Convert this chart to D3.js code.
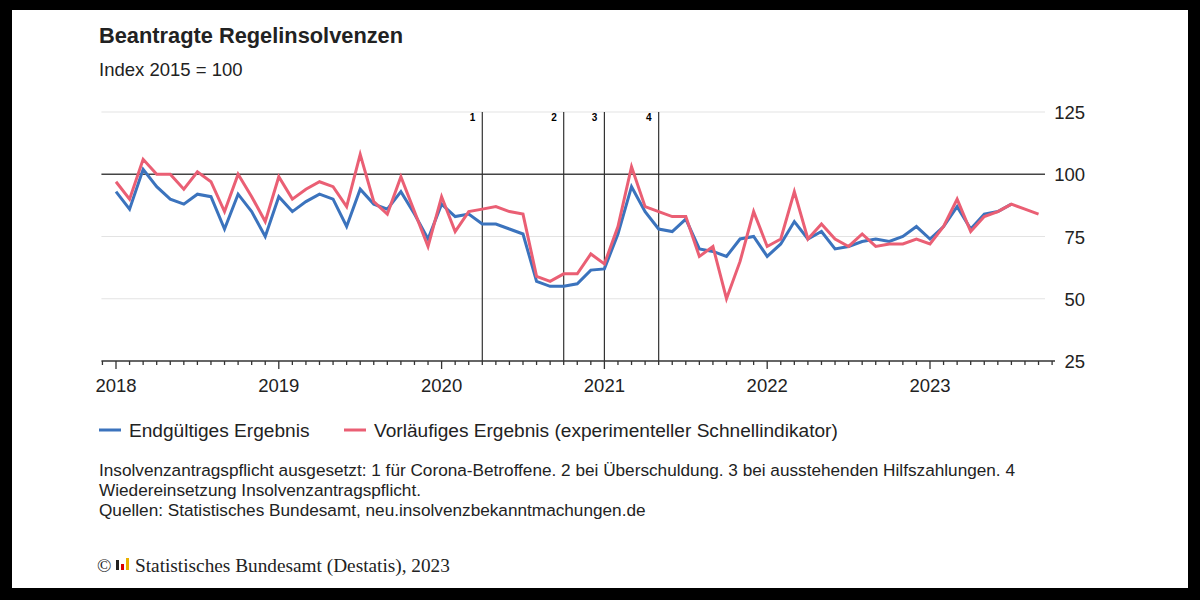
<!DOCTYPE html><html><head><meta charset="utf-8"><script src="https://d3js.org/d3.v7.min.js"></script>
<style>body{margin:0;background:#000}svg{display:block}text{font-family:Arial,"Liberation Sans",sans-serif}text.serif{font-family:"Liberation Serif","DejaVu Serif",serif}</style></head><body><svg width="1200" height="600"></svg><script>
const years=[2018,2019,2020,2021,2022,2023];
const final=[93,86,102,95,90,88,92,91,78,92,85,75, 91,85,89,92,90,79,94,88,86,93,84,74, 88,83,84,80,80,78,76,57,55,55,56,61.5, 62,76,95,85,78,77,82,70,69,67,74,75, 67,72,81,74,77,70,71,73,74,73,75,79, 74,79,87,78,84,85,88];
const prelim=[97,90,106,100,100,94,101,97,85,100,91,81, 99,90,94,97,95,87,108,89,84,99,85,71, 91,77,85,86,87,85,84,59,57,60,60,68, 64,79,103,87,85,83,83,67,71,50,65,85, 71,74,93,74,80,74,71,76,71,72,72,74, 72,79,90,77,83,85,88,86,84];
const yTicks=[25,50,75,100,125];
const events=[{label:"1",m:27},{label:"2",m:33},{label:"3",m:36},{label:"4",m:40}];
const svg=d3.select("svg");
svg.append("rect").attr("x",12).attr("y",10).attr("width",1176).attr("height",578).attr("fill","#fff");
const x=d3.scaleLinear().domain([0,60]).range([116,930]);
const y=d3.scaleLinear().domain([25,125]).range([361,112]);
const L=x(-1)-1,R=1045;
yTicks.filter(v=>v!==25&&v!==100).forEach(v=>svg.append("line").attr("x1",L).attr("x2",R).attr("y1",y(v)).attr("y2",y(v)).attr("stroke","#e3e3e3"));
svg.append("line").attr("x1",L).attr("x2",R).attr("y1",y(100)).attr("y2",y(100)).attr("stroke","#444").attr("stroke-width",1.5);
yTicks.forEach(v=>svg.append("text").attr("x",1085).attr("y",y(v)+7).attr("text-anchor","end").attr("font-size",18.5).attr("fill","#222").text(v));
events.forEach(e=>{svg.append("line").attr("x1",x(e.m)).attr("x2",x(e.m)).attr("y1",112).attr("y2",361).attr("stroke","#333").attr("stroke-width",1.2);
svg.append("text").attr("x",x(e.m)-7).attr("y",121).attr("text-anchor","end").attr("font-size",10).attr("font-weight","bold").text(e.label);});
const ax=svg.append("g").attr("transform","translate(0,361)");
ax.append("line").attr("x1",L).attr("x2",R+10).attr("stroke","#333").attr("stroke-width",1.5);
d3.range(-1,70).forEach(m=>ax.append("line").attr("x1",x(m)).attr("x2",x(m)).attr("y1",0).attr("y2",m%12===0?8:4).attr("stroke","#333").attr("stroke-width",1.3));
years.forEach((yr,i)=>ax.append("text").attr("x",x(i*12)).attr("y",31).attr("text-anchor","middle").attr("font-size",18.5).attr("fill","#222").text(yr));
const line=d3.line().x((d,i)=>x(i)).y(d=>y(d));
svg.append("path").attr("d",line(final)).attr("fill","none").attr("stroke","#3b73bd").attr("stroke-width",3);
svg.append("path").attr("d",line(prelim)).attr("fill","none").attr("stroke","#ea5f74").attr("stroke-width",3);
svg.append("text").attr("x",99).attr("y",43).attr("font-size",21.8).attr("font-weight","bold").attr("fill","#222").text("Beantragte Regelinsolvenzen");
svg.append("text").attr("x",99).attr("y",76).attr("font-size",18.5).attr("fill","#222").text("Index 2015 = 100");
svg.append("line").attr("x1",99).attr("x2",121).attr("y1",430).attr("y2",430).attr("stroke","#3b73bd").attr("stroke-width",3);
svg.append("text").attr("x",129).attr("y",437).attr("font-size",19.1).attr("fill","#222").text("Endgültiges Ergebnis");
svg.append("line").attr("x1",344).attr("x2",366).attr("y1",430).attr("y2",430).attr("stroke","#ea5f74").attr("stroke-width",3);
svg.append("text").attr("x",374).attr("y",437).attr("font-size",19.1).attr("fill","#222").text("Vorläufiges Ergebnis (experimenteller Schnellindikator)");
["Insolvenzantragspflicht ausgesetzt: 1 für Corona-Betroffene. 2 bei Überschuldung. 3 bei ausstehenden Hilfszahlungen. 4","Wiedereinsetzung Insolvenzantragspflicht.","Quellen: Statistisches Bundesamt, neu.insolvenzbekanntmachungen.de"].forEach((t,i)=>svg.append("text").attr("x",99).attr("y",476+i*20).attr("font-size",17.2).attr("fill","#222").text(t));
svg.append("text").attr("class","serif").attr("x",97).attr("y",572).attr("font-size",19).attr("fill","#222").text("©");
const lg=svg.append("g").attr("transform","translate(116,556)");
lg.append("rect").attr("x",0).attr("y",4).attr("width",3).attr("height",10).attr("fill","#222");
lg.append("rect").attr("x",5).attr("y",8).attr("width",3).attr("height",6).attr("fill","#d00");
lg.append("rect").attr("x",10).attr("y",2).attr("width",3).attr("height",12).attr("fill","#e8b000");
svg.append("text").attr("class","serif").attr("x",135).attr("y",572).attr("font-size",19.3).attr("fill","#222").text("Statistisches Bundesamt (Destatis), 2023");
</script></body></html>
